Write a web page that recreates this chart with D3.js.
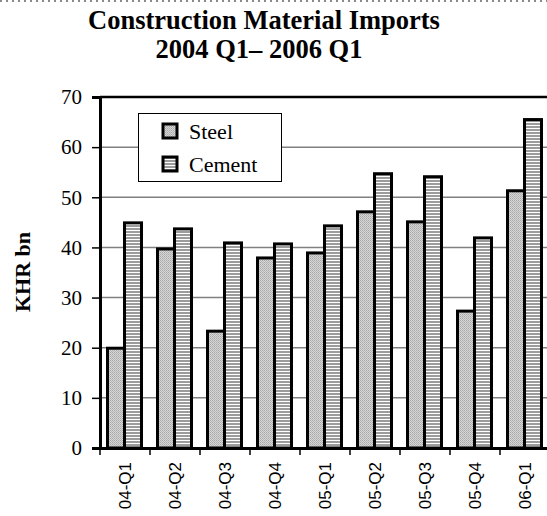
<!DOCTYPE html>
<html>
<head>
<meta charset="utf-8">
<script src="https://cdn.jsdelivr.net/npm/d3@7"></script>
<style>
  body { margin: 0; background: #fff; }
  svg { display: block; }
</style>
</head>
<body>
<script>
// chart data
const categories = ['04-Q1', '04-Q2', '04-Q3', '04-Q4', '05-Q1', '05-Q2', '05-Q3', '05-Q4', '06-Q1'];
const seriesNames = ['Steel', 'Cement'];
const steel = [19.9, 39.7, 23.3, 37.9, 38.9, 47.1, 45.1, 27.3, 51.3];
const cement = [44.9, 43.7, 40.9, 40.7, 44.3, 54.7, 54.1, 41.9, 65.5];
const yTicks = [0, 10, 20, 30, 40, 50, 60, 70];

const width = 547;
const height = 516;
const margin = { top: 97, right: -3, bottom: 68, left: 100 };
const serif = '"Liberation Serif", "Times New Roman", serif';

const svg = d3.select('body').append('svg')
  .attr('width', width)
  .attr('height', height);

// fill patterns
const defs = svg.append('defs');
const dots = defs.append('pattern')
  .attr('id', 'steelFill')
  .attr('width', 2).attr('height', 2)
  .attr('patternUnits', 'userSpaceOnUse');
dots.append('rect').attr('width', 2).attr('height', 2).attr('fill', '#d6d6d6');
dots.append('rect').attr('width', 1).attr('height', 1).attr('fill', '#a8a8a8');
dots.append('rect').attr('x', 1).attr('y', 1).attr('width', 1).attr('height', 1).attr('fill', '#b8b8b8');

const stripes = defs.append('pattern')
  .attr('id', 'cementFill')
  .attr('width', 4).attr('height', 3)
  .attr('patternUnits', 'userSpaceOnUse');
stripes.append('rect').attr('width', 4).attr('height', 3).attr('fill', '#ffffff');
stripes.append('rect').attr('width', 4).attr('height', 2).attr('fill', '#9c9c9c');

const fills = { Steel: 'url(#steelFill)', Cement: 'url(#cementFill)' };

// dotted line at the very top
svg.append('line')
  .attr('x1', 0).attr('x2', width)
  .attr('y1', 1).attr('y2', 1)
  .attr('stroke', '#8a8a8a')
  .attr('stroke-width', 2)
  .attr('stroke-dasharray', '2,4');

// title
const title = svg.append('g')
  .attr('font-family', serif)
  .attr('font-weight', 'bold')
  .attr('font-size', 26.5)
  .attr('text-anchor', 'middle');
title.append('text').attr('x', 264).attr('y', 29).text('Construction Material Imports');
title.append('text').attr('x', 259).attr('y', 58).text('2004 Q1\u2013 2006 Q1');

// scales
const x0 = d3.scaleBand()
  .domain(categories)
  .range([margin.left, width - margin.right])
  .padding(0);

const x1 = d3.scaleBand()
  .domain(seriesNames)
  .range([7.5, 41.5])
  .padding(0);

const y = d3.scaleLinear()
  .domain([0, 70])
  .range([height - margin.bottom, margin.top]);

// gridlines
svg.append('g')
  .selectAll('line')
  .data(yTicks.filter(d => d > 0 && d < 70))
  .join('line')
  .attr('x1', margin.left)
  .attr('x2', width)
  .attr('y1', d => y(d))
  .attr('y2', d => y(d))
  .attr('stroke', '#808080')
  .attr('stroke-width', 1.5);

// top frame line
svg.append('line')
  .attr('x1', margin.left).attr('x2', width)
  .attr('y1', y(70)).attr('y2', y(70))
  .attr('stroke', '#000')
  .attr('stroke-width', 2.5);

// bars
const groups = svg.append('g')
  .selectAll('g')
  .data(categories)
  .join('g')
  .attr('transform', d => `translate(${x0(d)},0)`);

groups.selectAll('rect')
  .data((d, i) => [
    { key: 'Steel', value: steel[i] },
    { key: 'Cement', value: cement[i] }
  ])
  .join('rect')
  .attr('x', d => x1(d.key))
  .attr('y', d => y(d.value))
  .attr('width', x1.bandwidth())
  .attr('height', d => y(0) - y(d.value))
  .attr('fill', d => fills[d.key])
  .attr('stroke', '#000')
  .attr('stroke-width', 3);

// y axis
const yAxis = svg.append('g')
  .attr('transform', `translate(${margin.left},0)`)
  .call(d3.axisLeft(y).tickValues(yTicks).tickSize(8).tickPadding(10));
yAxis.attr('font-family', serif).attr('font-size', 21);
yAxis.select('.domain').attr('stroke-width', 3);
yAxis.selectAll('.tick line').attr('stroke-width', 1.5);
yAxis.selectAll('.tick text').attr('fill', '#000');

// x axis
const xAxis = svg.append('g')
  .attr('transform', `translate(0,${y(0)})`)
  .call(d3.axisBottom(x0).tickSize(0).tickPadding(0));
xAxis.attr('font-family', '"Liberation Sans", Arial, sans-serif').attr('font-size', 17);
xAxis.select('.domain').attr('stroke-width', 3);
xAxis.selectAll('.tick text')
  .attr('fill', '#000')
  .attr('text-anchor', 'end')
  .attr('transform', 'translate(0,14) rotate(-90)')
  .attr('x', 0)
  .attr('y', 0)
  .attr('dy', '0.35em');

// category boundary ticks
svg.append('g')
  .selectAll('line')
  .data(categories)
  .join('line')
  .attr('x1', d => x0(d))
  .attr('x2', d => x0(d))
  .attr('y1', y(0))
  .attr('y2', y(0) + 7)
  .attr('stroke', '#000')
  .attr('stroke-width', 1.5);

// y label
svg.append('text')
  .attr('transform', 'translate(30,272) rotate(-90)')
  .attr('text-anchor', 'middle')
  .attr('font-family', serif)
  .attr('font-weight', 'bold')
  .attr('font-size', 22)
  .text('KHR bn');

// legend
const legend = svg.append('g');
legend.append('rect')
  .attr('x', 138.5).attr('y', 113.5)
  .attr('width', 143).attr('height', 68)
  .attr('fill', '#fff')
  .attr('stroke', '#000')
  .attr('stroke-width', 1);

const legendItems = legend.selectAll('g')
  .data(seriesNames)
  .join('g')
  .attr('transform', (d, i) => `translate(163,${124 + i * 33})`);

legendItems.append('rect')
  .attr('width', 14).attr('height', 14)
  .attr('fill', d => fills[d])
  .attr('stroke', '#000')
  .attr('stroke-width', 3);

legendItems.append('text')
  .attr('x', 26)
  .attr('y', 15)
  .attr('font-family', serif)
  .attr('font-size', 22)
  .text(d => d);
</script>
</body>
</html>
